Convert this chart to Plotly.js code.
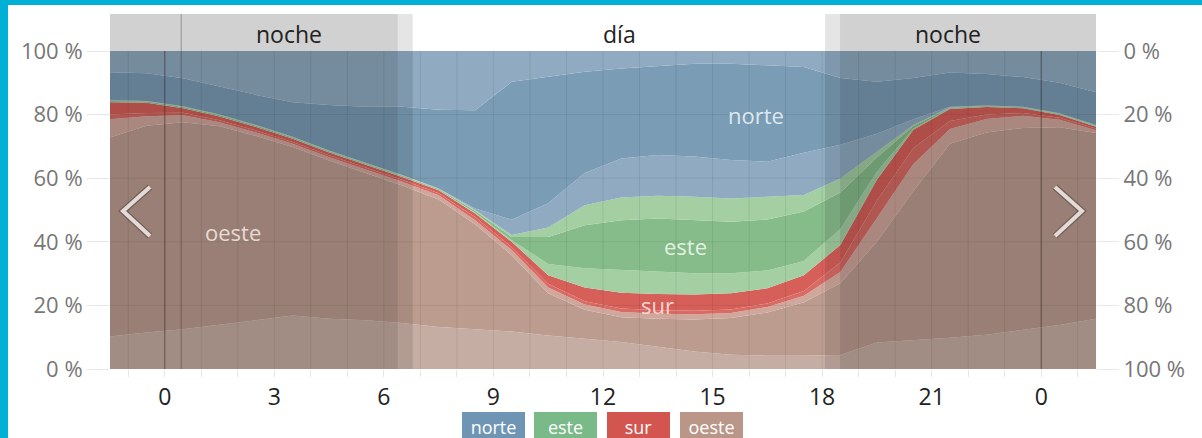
<!DOCTYPE html>
<html>
<head>
<meta charset="utf-8">
<script src="https://cdn.plot.ly/plotly-3.0.1.min.js"></script>
<style>
  html, body { margin:0; padding:0; background:#fff; overflow:hidden; }
  #chart { position:absolute; left:0; top:0; width:1202px; height:438px; }
  .frameTop { position:absolute; left:0; top:0; width:1202px; height:5px; background:#00b0d6; z-index:5; }
  .frameLeft { position:absolute; left:0; top:0; width:8px; height:438px; background:#00b0d6; z-index:5; }
</style>
</head>
<body>
<div id="chart"></div>
<div class="frameTop"></div>
<div class="frameLeft"></div>
<script>
// ---- data (hours and cumulative boundaries in %) ----
const hours = [-1.5,-0.5,0.5,1.5,2.5,3.5,4.5,5.5,6.5,7.5,8.5,9.5,10.5,11.5,12.5,13.5,14.5,15.5,16.5,17.5,18.5,19.5,20.5,21.5,22.5,23.5,24.5,25.5];

// oeste (west) bands
const oesteLow  = [10.2,11.5,12.5,14.0,15.5,16.8,15.8,15.3,14.5,13.2,12.5,11.8,10.5,9.5,8.5,7.0,5.5,4.5,4.2,4.2,4.4,8.3,9.0,9.8,10.8,12.2,13.8,15.8];
const oesteMid  = [72.8,76.5,77.6,76.3,73.3,69.8,65.6,61.6,57.7,53.3,45.5,35.8,23.8,18.6,16.3,15.8,15.6,16.0,17.8,21.0,27.0,40.0,56.0,70.8,74.4,75.8,76.0,74.2];
const oesteTop  = [78.5,79.5,79.8,77.6,74.4,70.8,66.6,62.7,58.9,54.6,46.8,37.4,25.6,20.3,17.9,17.4,17.2,17.6,19.5,23.0,30.5,47.5,64.5,75.5,78.6,79.6,78.4,75.1];
// sur (south) bands
const surMid    = [80.0,80.5,80.6,78.2,75.0,71.4,67.2,63.3,59.5,55.3,47.8,38.3,26.8,21.3,19.0,18.5,18.3,18.7,20.6,24.5,33.5,53.0,69.5,78.0,80.0,80.5,79.0,75.6];
const surTop    = [83.9,83.7,82.0,79.4,76.1,72.4,68.1,64.2,60.4,56.2,48.9,40.0,29.5,25.6,24.0,23.6,23.4,23.8,25.4,29.5,39.0,59.5,75.2,81.8,82.4,82.0,79.9,76.2];
// este (east) bands
const esteLow   = [84.0,83.8,82.1,79.5,76.2,72.5,68.2,64.3,60.5,56.3,49.1,40.5,33.0,31.7,31.2,30.6,30.1,30.1,31.0,34.0,44.0,62.0,75.6,81.9,82.5,82.1,80.0,76.3];
const esteMid   = [84.3,84.1,82.4,79.8,76.5,72.8,68.5,64.6,60.8,56.6,49.7,41.5,41.5,45.2,46.8,47.3,46.8,46.3,47.0,49.5,55.5,66.5,76.4,82.1,82.7,82.3,80.2,76.5];
const esteTop   = [84.5,84.3,82.6,80.0,76.7,73.0,68.7,64.8,61.0,56.8,50.0,42.1,44.5,51.5,53.9,54.5,54.2,53.6,54.2,54.7,59.9,68.3,76.7,82.3,82.9,82.5,80.4,76.7];
// norte (north) bands
const norteLow  = [84.5,84.3,82.6,80.0,76.7,73.0,68.7,64.8,61.0,56.8,50.5,46.9,52.1,61.6,66.2,67.3,66.8,65.7,65.2,68.0,70.5,74.0,78.5,82.5,82.9,82.5,80.4,76.7];
const norteMid  = [93.3,93.0,91.4,88.8,86.2,83.9,83.0,82.5,82.5,81.5,81.4,90.3,92.0,93.5,94.5,95.3,96.0,96.0,95.5,95.0,91.5,90.3,91.5,93.2,92.8,91.8,90.0,87.0];
const total     = [100,100,100,100,100,100,100,100,100,100,100,100,100,100,100,100,100,100,100,100,100,100,100,100,100,100,100,100];

const categories = ['norte','este','sur','oeste'];
const tickHours  = [0,3,6,9,12,15,18,21,24];
const tickLabels = ['0','3','6','9','12','15','18','21','0'];
const gridHours  = [-1,0,1,2,3,4,5,6,7,8,9,10,11,12,13,14,15,16,17,18,19,20,21,22,23,24,25];
const midnights  = [0,24];
const nowHour    = 0.45;
const pctTicks   = [0,20,40,60,80,100];
const pctLabels  = ['0 %','20 %','40 %','60 %','80 %','100 %'];
const pctGrid    = [20,40,60,80];
const shadeStart = [-1.5, 6.38, 18.08, 18.49];
const shadeEnd   = [6.38, 6.79, 18.49, 25.5];
const shadeAlpha = [0.18, 0.10, 0.10, 0.18];
const periodNames = ['noche','día','noche'];
const periodCenters = [3.4, 12.45, 21.45];

// ---- styling ----
const col = {
  oesteLight:'#c6ada3', oesteCore:'#bb9c8f', oesteEdge:'#d0a79c',
  surEdge:'#d86b64', surCore:'#d65f59',
  esteEdge:'#a3cfa2', esteCore:'#86bc8a',
  norteEdge:'#8faac1', norteCore:'#7a9cb4'
};
const legendColors = ['#6e96b4','#7ab988','#d25550','#b99687'];

const bounds = [oesteLow, oesteMid, oesteTop, surMid, surTop, esteLow, esteMid, esteTop, norteLow, norteMid, total];
const fills  = [col.oesteLight, col.oesteCore, col.oesteEdge, col.surEdge, col.surCore,
                col.esteEdge, col.esteCore, col.esteEdge, col.norteEdge, col.norteCore, col.norteEdge];

const traces = bounds.map((b, i) => ({
  x: hours, y: b, type:'scatter', mode:'lines',
  line:{width:0, color:fills[i]}, fill: i === 0 ? 'tozeroy' : 'tonexty',
  fillcolor: fills[i], hoverinfo:'skip', showlegend:false
}));
traces.push({x:[null], y:[null], yaxis:'y2', type:'scatter', mode:'lines', showlegend:false, hoverinfo:'skip'});
traces.push({x:[null], y:[null], yaxis:'y3', type:'scatter', mode:'lines', showlegend:false, hoverinfo:'skip'});

const shapes = [];
// horizontal grid over data
pctGrid.forEach(v => shapes.push({type:'line', xref:'x domain', yref:'y', x0:0, x1:1, y0:v, y1:v,
  line:{color:'rgba(0,0,0,0.07)', width:1}, layer:'above'}));
// hourly grid over data
gridHours.forEach(h => shapes.push({type:'line', xref:'x', yref:'y domain', x0:h, x1:h, y0:0, y1:1,
  line:{color:'rgba(0,0,0,0.08)', width:1}, layer:'above'}));
// night shading (plot + header)
shadeStart.forEach((s, i) => {
  ['y domain','y3 domain'].forEach(yr => shapes.push({type:'rect', xref:'x', yref:yr, x0:s, x1:shadeEnd[i], y0:0, y1:1,
    fillcolor:'rgba(0,0,0,' + shadeAlpha[i] + ')', line:{width:0}, layer:'above'}));
});
// midnight lines
midnights.forEach(h => shapes.push({type:'line', xref:'x', yref:'y domain', x0:h, x1:h, y0:0, y1:1,
  line:{color:'rgba(40,25,20,0.45)', width:1}, layer:'above'}));
// current time line
['y domain','y3 domain'].forEach(yr => shapes.push({type:'line', xref:'x', yref:yr, x0:nowHour, x1:nowHour, y0:0, y1:1,
  line:{color:'rgba(40,30,30,0.35)', width:1}, layer:'above'}));
// navigation chevrons
const chevL = 'M 0.0406 0.5127 L 0.0132 0.4451 L 0.0406 0.3746';
const chevR = 'M 0.9584 0.5127 L 0.9858 0.4451 L 0.9584 0.3746';
[chevL, chevR].forEach(p => {
  shapes.push({type:'path', xref:'paper', yref:'paper', path:p, line:{color:'rgba(70,55,50,0.45)', width:6.5}, layer:'above'});
  shapes.push({type:'path', xref:'paper', yref:'paper', path:p, line:{color:'rgba(232,226,222,0.95)', width:4}, layer:'above'});
});

const annotations = [];
periodNames.forEach((t, i) => annotations.push({xref:'x', yref:'y3 domain', x:periodCenters[i], y:0.45,
  text:t, showarrow:false, font:{size:23, color:'#222'}, xanchor:'center', yanchor:'middle'}));
// in-chart category labels
const labelX = [16.2, 14.27, 13.48, 1.86];
const labelY = [80, 38.7, 20.1, 43.1];
const labelCol = ['rgba(228,238,246,0.95)','rgba(232,246,232,0.95)','rgba(252,222,216,0.95)','rgba(238,224,218,0.95)'];
categories.forEach((c, i) => annotations.push({xref:'x', yref:'y', x:labelX[i], y:labelY[i], text:c,
  showarrow:false, font:{size:22, color:labelCol[i]}, xanchor:'center', yanchor:'middle'}));
// legend boxes
const legendX = [0.3889, 0.4620, 0.5365, 0.6100];
categories.forEach((c, i) => annotations.push({xref:'paper', yref:'paper', x:legendX[i], y:-0.1211,
  xanchor:'center', yanchor:'top', text:c, showarrow:false, bgcolor:legendColors[i],
  width:63, height:30, borderpad:0, borderwidth:0, font:{size:18, color:'#fff'}}));

const axisTickFont = {size:22, color:'#777'};
const layout = {
  width:1202, height:438,
  margin:{l:110, r:106, t:14, b:69},
  paper_bgcolor:'#fff', plot_bgcolor:'#fff',
  font:{family:'"Open Sans", sans-serif'},
  showlegend:false,
  xaxis:{range:[-1.5,25.5], anchor:'y', tickmode:'array', tickvals:tickHours, ticktext:tickLabels,
    ticks:'outside', ticklen:7, tickcolor:'#e6e6e6', tickfont:{size:23, color:'#222'},
    showgrid:false, zeroline:false, showline:false,
    minor:{tick0:0, dtick:1, ticks:'outside', ticklen:7, tickcolor:'#e6e6e6', showgrid:false}},
  yaxis:{domain:[0, 318/355], range:[0,100], tickmode:'array', tickvals:pctTicks, ticktext:pctLabels,
    ticks:'outside', ticklen:22, tickcolor:'#e8e8e8', tickfont:axisTickFont,
    showgrid:false, zeroline:false, showline:false},
  yaxis2:{overlaying:'y', side:'right', range:[100,0], tickmode:'array', tickvals:pctTicks, ticktext:pctLabels,
    ticks:'outside', ticklen:22, tickcolor:'#e8e8e8', tickfont:axisTickFont,
    showgrid:false, zeroline:false, showline:false},
  yaxis3:{domain:[318/355, 1], range:[0,1], anchor:'x', showticklabels:false, ticks:'',
    showgrid:false, zeroline:false, showline:false},
  shapes:shapes,
  annotations:annotations
};

Plotly.newPlot('chart', traces, layout, {staticPlot:true, displayModeBar:false});
</script>
</body>
</html>
